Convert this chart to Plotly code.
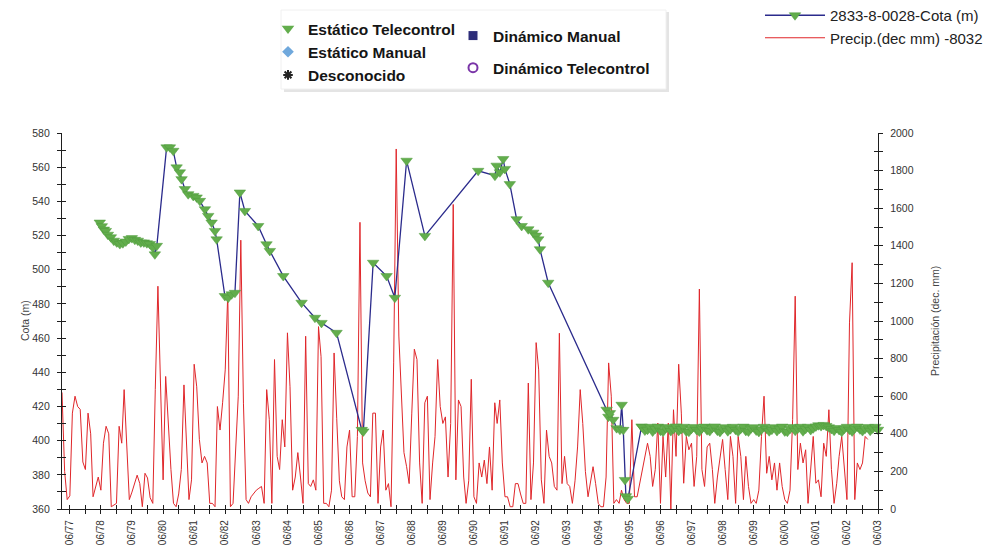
import plotly.graph_objects as go
import pandas as pd

# ---------------------------------------------------------------------------
# Monthly precipitation at station 8032, in tenths of mm (Mar 1977 - Feb 2003)
# ---------------------------------------------------------------------------
precip_start = "1977-03-01"
precip_dec_mm = [
    620, 200, 50, 70, 510, 600, 545, 530, 250, 210,                 # 1977 (Mar-Dec)
    510, 400, 65, 120, 170, 100, 350, 440, 400, 12, 20, 30,         # 1978
    440, 350, 635, 315, 50, 90, 135, 180, 135, 12, 190, 165,        # 1979
    60, 30, 635, 1185, 670, 155, 705, 440, 210, 30, 12, 80,         # 1980
    210, 660, 400, 50, 155, 770, 650, 370, 245, 280, 245, 30,       # 1981
    30, 12, 545, 420, 565, 740, 1150, 12, 30, 300, 600, 1430,       # 1982
    563, 50, 30, 65, 85, 100, 110, 120, 30, 635, 475, 30,           # 1983
    795, 280, 210, 475, 330, 937, 650, 100, 170, 300, 170, 30,      # 1984
    919, 135, 120, 155, 100, 970, 810, 30, 30, 12, 100, 830,        # 1985
    480, 150, 65, 50, 330, 420, 65, 65, 386, 1525, 245, 150,        # 1986
    85, 65, 510, 510, 30, 330, 420, 100, 135, 12, 777, 1915,        # 1987
    920, 565, 300, 225, 135, 510, 850, 795, 245, 30, 565, 600,      # 1988
    50, 245, 385, 795, 545, 455, 490, 170, 455, 1620, 155, 580,     # 1989
    545, 170, 30, 150, 690, 65, 30, 245, 170, 260, 135, 330,        # 1990
    100, 565, 455, 580, 245, 65, 65, 12, 12, 135, 135, 80,          # 1991
    30, 30, 670, 50, 245, 885, 740, 155, 30, 420, 280, 245,         # 1992
    120, 100, 935, 135, 280, 135, 120, 30, 150, 330, 635, 455,      # 1993
    200, 65, 150, 225, 135, 30, 12, 12, 170, 777, 600, 30,          # 1994
    50, 30, 100, 50, 30, 30, 475, 65, 65, 137, 200, 280,            # 1995
    350, 280, 120, 210, 457, 30, 386, 170, 457, 0, 528, 280,        # 1996
    770, 510, 137, 386, 315, 350, 120, 280, 1170, 210, 120, 330,    # 1997
    350, 210, 30, 170, 280, 370, 210, 50, 386, 280, 30, 386,        # 1998
    280, 50, 280, 120, 30, 50, 30, 100, 386, 600, 190, 280,         # 1999
    155, 245, 100, 245, 120, 50, 30, 100, 475, 1132, 210, 350,      # 2000
    245, 315, 30, 200, 386, 137, 155, 65, 350, 280, 528, 210,       # 2001
    30, 137, 280, 386, 210, 50, 990, 1310, 50, 245, 210, 245,       # 2002
    386, 370,                                                       # 2003 (Jan-Feb)
]
precip_dates = pd.date_range(precip_start, periods=len(precip_dec_mm), freq="MS")

# ---------------------------------------------------------------------------
# Piezometric level of well 2833-8-0028 (m a.s.l.), static remote readings
# ---------------------------------------------------------------------------
cota_dates = [
    "1978-05-19", "1978-06-12", "1978-07-06", "1978-07-29", "1978-08-22",
    "1978-09-26", "1978-10-31", "1978-12-05", "1979-01-10", "1979-02-14",
    "1979-03-21", "1979-04-25", "1979-05-31", "1979-07-05", "1979-08-09",
    "1979-09-13", "1979-10-19", "1979-11-23", "1979-12-28", "1980-02-01",
    "1980-02-25", "1980-03-19",
    "1980-07-12", "1980-08-20", "1980-09-28", "1980-11-07", "1980-12-15",
    "1981-01-04", "1981-02-12", "1981-03-23", "1981-05-21", "1981-06-30",
    "1981-08-07", "1981-10-05", "1981-11-13", "1981-12-23", "1982-01-31",
    "1982-02-20",
    "1982-05-28", "1982-07-06", "1982-08-15", "1982-09-23", "1982-11-20",
    "1983-01-18", "1983-06-23", "1983-09-29", "1983-11-07", "1984-04-13",
    "1984-11-14", "1985-04-20", "1985-07-06", "1985-12-30",
    "1986-10-22", "1986-11-10", "1987-03-05", "1987-08-10", "1987-11-15",
    "1988-04-01", "1988-11-02",
    "1990-07-21", "1991-02-03", "1991-02-23", "1991-04-02", "1991-05-11",
    "1991-05-31", "1991-07-28", "1991-10-16", "1991-12-14", "1992-03-01",
    "1992-04-28", "1992-06-01", "1992-06-26", "1992-07-16", "1992-10-21",
    "1994-09-07", "1994-09-28", "1994-10-16", "1994-11-24", "1995-01-03",
    "1995-02-11", "1995-03-03", "1995-03-22", "1995-04-11", "1995-04-22",
    "1995-05-15", "1995-10-23",
]
cota_m = [
    527.6, 525.5, 523.5, 522.7, 520.5,
    519.0, 517.0, 516.0, 515.0, 515.5,
    516.5, 518.0, 518.5, 517.5, 517.0,
    516.0, 516.0, 515.5, 515.0, 513.0,
    509.0, 514.0,
    571.6, 571.6, 569.6, 559.9, 557.0,
    553.0, 547.2, 544.2, 543.2, 542.3,
    540.3, 535.4, 531.5, 527.6, 522.7,
    517.8,
    484.6, 483.6, 485.6, 486.5, 545.2,
    534.4, 525.6, 514.9, 511.0, 496.3,
    480.7, 471.9, 468.9, 463.1,
    406.3, 405.4, 504.1, 496.3, 483.6,
    563.8, 519.8,
    557.9, 555.0, 560.9, 557.0, 564.8,
    559.0, 550.1, 529.6, 525.6, 523.7,
    521.7, 520.0, 517.8, 512.0, 492.4,
    418.1, 414.0, 416.1, 412.2, 407.3,
    406.3, 421.0, 406.3, 377.0, 367.5,
    366.0, 408.3,
]

# Monthly telemetry after the 1995 recovery (Nov 1995 - Jun 2003)
cota_tele_start = "1995-11-01"
cota_tele_m = [
    407.9, 405.9,                                                               # 1995
    406.4, 408.1, 405.3, 406.9, 408.2, 405.8, 405.2, 407.4, 408.0, 405.6, 406.9, 408.3,  # 1996
    405.7, 406.8, 408.1, 405.4, 405.2, 407.0, 408.0, 406.2, 405.3, 407.2, 408.2, 406.1,  # 1997
    405.6, 407.5, 408.3, 405.8, 405.1, 406.9, 407.9, 405.5, 406.7, 408.1, 406.3, 405.3,  # 1998
    407.0, 408.2, 405.7, 405.3, 407.2, 407.9, 405.9, 405.1, 406.6, 408.1, 407.0, 405.5,  # 1999
    406.4, 407.9, 405.6, 407.0, 408.2, 405.4, 405.2, 406.9, 408.0, 405.8, 407.1, 408.1,  # 2000
    405.5, 406.9, 408.1, 406.2, 407.2, 408.3, 409.0, 408.5, 409.2, 408.6, 407.8, 406.8,  # 2001
    405.8, 407.4, 406.2, 405.2, 407.0, 408.1, 406.4, 405.4, 407.2, 408.2, 406.6, 405.6,  # 2002
    407.0, 408.0, 405.8, 407.1, 408.1, 406.4,                                   # 2003
]
cota_tele_dates = pd.date_range(cota_tele_start, periods=len(cota_tele_m), freq="MS")

all_cota_dates = list(pd.to_datetime(cota_dates)) + list(cota_tele_dates)
all_cota_m = cota_m + cota_tele_m

# Reading-type categories shown in the symbol key
status_names = ["Estático Telecontrol", "Estático Manual", "Desconocido",
                "Dinámico Manual", "Dinámico Telecontrol"]
status_symbols = ["triangle-down", "diamond", "asterisk-open", "square", "circle-open"]
status_colors = ["#62ad4c", "#6fa8dc", "#222222", "#2e2e7a", "#7a35a8"]
status_legend = ["legend", "legend", "legend", "legend2", "legend2"]

# Axis settings
x_range = ["1977-03-01", "2003-06-01"]
cota_range = [360, 580]
precip_range = [0, 2000]

FONT = "Liberation Sans, Arial, sans-serif"
GREEN = "#62ad4c"
NAVY = "#2b2b8c"
RED = "#e0262a"
AX = "#1e1e1e"

W, H = 996, 559
ML, MR, MT, MB = 62, 118, 133, 50
PW, PH = W - ML - MR, H - MT - MB


def px_x(px):
    return (px - ML) / PW


def px_y(py):
    return (H - MB - py) / PH


fig = go.Figure()

# Precipitation (right axis) - base subplot so the level series sits on top
fig.add_trace(go.Scatter(
    x=precip_dates, y=precip_dec_mm, mode="lines",
    line=dict(color=RED, width=1),
    name="Precip.(dec mm) -8032", legend="legend3",
    xaxis="x", yaxis="y",
))

# Water level (left axis)
fig.add_trace(go.Scatter(
    x=all_cota_dates, y=all_cota_m, mode="lines+markers",
    line=dict(color=NAVY, width=1.3),
    marker=dict(symbol="triangle-down", size=10, color=GREEN,
                line=dict(width=0.5, color="#4f9a3c")),
    name="2833-8-0028-Cota (m)", legend="legend3", cliponaxis=False,
    xaxis="x", yaxis="y2",
))

# Symbol key entries
for nm, sym, col, lg in zip(status_names, status_symbols, status_colors, status_legend):
    mk = dict(symbol=sym, color=col, size=9)
    if sym.endswith("open"):
        mk.update(size=9 if sym == "circle-open" else 8, line=dict(color=col, width=2))
    if sym == "triangle-down":
        mk.update(size=11)
    fig.add_trace(go.Scatter(
        x=[None], y=[None], mode="markers", marker=mk, name=nm,
        legend=lg, legendgroup=nm, xaxis="x", yaxis="y2",
    ))

# Companion axes that carry the inner half of the cross-shaped ticks
fig.add_trace(go.Scatter(x=[None], y=[None], xaxis="x2", yaxis="y", showlegend=False))
fig.add_trace(go.Scatter(x=[None], y=[None], xaxis="x", yaxis="y3", showlegend=False))
fig.add_trace(go.Scatter(x=[None], y=[None], xaxis="x", yaxis="y4", showlegend=False))

tickfont = dict(family=FONT, size=10.5, color="#333333")
titlefont = dict(family=FONT, size=10.5, color="#444444")

common = dict(showgrid=False, zeroline=False, tickcolor=AX, tickwidth=1, ticklen=4)

fig.update_layout(
    width=W, height=H,
    margin=dict(l=ML, r=MR, t=MT, b=MB, autoexpand=False),
    paper_bgcolor="white", plot_bgcolor="white",
    font=dict(family=FONT, color="#222222"),
    hovermode=False,
    xaxis=dict(
        type="date", range=x_range, anchor="y", side="bottom",
        ticks="outside", tick0="1977-06-01", dtick="M12", tickformat="%m/%y",
        tickangle=-90, tickfont=dict(family=FONT, size=10, color="#333333"),
        ticklabelstandoff=2,
        showline=True, linecolor=AX, linewidth=1.2,
        minor=dict(ticks="outside", tick0="1976-12-01", dtick="M12",
                   ticklen=4, tickcolor=AX, tickwidth=1),
        **common,
    ),
    xaxis2=dict(
        type="date", range=x_range, anchor="y", side="bottom", overlaying="x",
        ticks="inside", tick0="1977-06-01", dtick="M12", showticklabels=False,
        showline=False,
        minor=dict(ticks="inside", tick0="1976-12-01", dtick="M12",
                   ticklen=4, tickcolor=AX, tickwidth=1),
        **common,
    ),
    yaxis=dict(
        range=precip_range, side="right", anchor="x",
        ticks="outside", tick0=0, dtick=200, tickfont=tickfont,
        ticklabelstandoff=5,
        showline=True, linecolor=AX, linewidth=1.2,
        minor=dict(ticks="outside", dtick=100, ticklen=4, tickcolor=AX, tickwidth=1),
        **common,
    ),
    yaxis2=dict(
        range=cota_range, side="left", anchor="x", overlaying="y",
        ticks="outside", tick0=360, dtick=20, tickfont=tickfont,
        ticklabelstandoff=5,
        showline=True, linecolor=AX, linewidth=1.2,
        minor=dict(ticks="outside", dtick=10, ticklen=4, tickcolor=AX, tickwidth=1),
        **common,
    ),
    yaxis3=dict(
        range=precip_range, side="right", anchor="x", overlaying="y",
        ticks="inside", dtick=200, showticklabels=False, showline=False,
        minor=dict(ticks="inside", dtick=100, ticklen=4, tickcolor=AX, tickwidth=1),
        **common,
    ),
    yaxis4=dict(
        range=cota_range, side="left", anchor="x", overlaying="y",
        ticks="inside", dtick=20, showticklabels=False, showline=False,
        minor=dict(ticks="inside", dtick=10, ticklen=4, tickcolor=AX, tickwidth=1),
        **common,
    ),
    legend=dict(
        x=px_x(268), y=px_y(12), xanchor="left", yanchor="top",
        bgcolor="rgba(0,0,0,0)", borderwidth=0, tracegroupgap=0,
        font=dict(family=FONT, size=15.5, color="#151515", weight="bold"),
        itemclick=False, itemdoubleclick=False,
    ),
    legend2=dict(
        x=px_x(453), y=px_y(19), xanchor="left", yanchor="top",
        bgcolor="rgba(0,0,0,0)", borderwidth=0, tracegroupgap=9,
        font=dict(family=FONT, size=15.5, color="#151515", weight="bold"),
        itemclick=False, itemdoubleclick=False,
    ),
    legend3=dict(
        x=px_x(760), y=px_y(-1), xanchor="left", yanchor="top",
        bgcolor="rgba(0,0,0,0)", borderwidth=0, itemwidth=60,
        traceorder="reversed",
        font=dict(family=FONT, size=15, color="#222222"),
        itemclick=False, itemdoubleclick=False,
    ),
    annotations=[
        dict(text="Cota (m)", xref="paper", yref="paper",
             x=px_x(25), y=px_y(321), textangle=-90, showarrow=False,
             xanchor="center", yanchor="middle", font=titlefont),
        dict(text="Precipitación (dec. mm)", xref="paper", yref="paper",
             x=px_x(935), y=px_y(321), textangle=-90, showarrow=False,
             xanchor="center", yanchor="middle", font=titlefont),
    ],
    shapes=[
        # soft drop shadow and frame of the symbol key
        dict(type="rect", xref="paper", yref="paper", layer="below",
             x0=px_x(284), x1=px_x(669), y0=px_y(92), y1=px_y(12),
             fillcolor="#e4e4e4", line=dict(width=0)),
        dict(type="rect", xref="paper", yref="paper", layer="below",
             x0=px_x(281), x1=px_x(666), y0=px_y(89), y1=px_y(10),
             fillcolor="white", line=dict(width=1, color="#f0f0f0")),
    ],
)

fig.write_html("out.html", config={"displayModeBar": False})
